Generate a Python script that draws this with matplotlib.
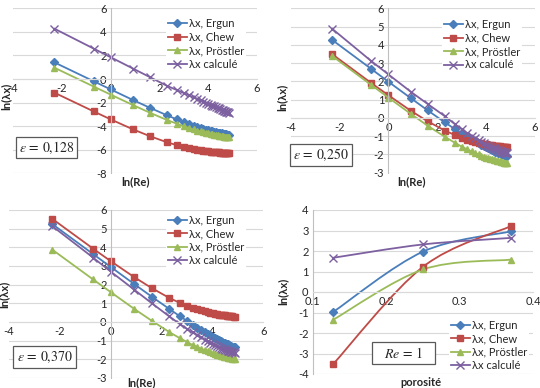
import matplotlib
matplotlib.use("Agg")
import matplotlib.pyplot as plt
import numpy as np
from matplotlib.lines import Line2D
from matplotlib.path import Path
from matplotlib.patches import PathPatch, Rectangle

plt.rcParams["font.family"] = ["Lato", "DejaVu Sans"]
plt.rcParams["axes.unicode_minus"] = False
plt.rcParams["mathtext.fontset"] = "stix"

# Reynolds numbers (x axis is ln(Re))
re_values = [0.1, 0.5, 1, 2.5, 5, 10, 15, 20, 25, 30, 35, 40, 45, 50, 55, 60,
             65, 70, 75, 80, 85, 90, 95, 100, 105, 110, 115, 120, 125, 130]

# porosity 0.128
ergun_128 = [1.41, -0.19, -0.88, -1.78, -2.44, -3.07, -3.42, -3.65, -3.82, -3.95,
             -4.06, -4.15, -4.23, -4.29, -4.35, -4.40, -4.44, -4.48, -4.51, -4.54,
             -4.57, -4.60, -4.62, -4.65, -4.67, -4.69, -4.70, -4.72, -4.74, -4.75]
chew_128 = [-1.16, -2.75, -3.42, -4.27, -4.85, -5.36, -5.61, -5.76, -5.86, -5.94,
            -6.00, -6.04, -6.08, -6.11, -6.14, -6.16, -6.18, -6.19, -6.21, -6.22,
            -6.23, -6.24, -6.25, -6.26, -6.27, -6.28, -6.28, -6.29, -6.29, -6.30]
prostler_128 = [0.96, -0.64, -1.32, -2.21, -2.86, -3.47, -3.79, -4.01, -4.16, -4.28,
                -4.38, -4.45, -4.52, -4.57, -4.62, -4.66, -4.70, -4.73, -4.76, -4.78,
                -4.81, -4.83, -4.85, -4.87, -4.88, -4.90, -4.91, -4.92, -4.94, -4.95]
calc_128 = [4.27, 2.58, 1.85, 0.89, 0.16, -0.57, -0.93, -1.19, -1.39, -1.56,
            -1.70, -1.82, -1.92, -2.02, -2.10, -2.18, -2.25, -2.32, -2.38, -2.44,
            -2.50, -2.55, -2.60, -2.64, -2.69, -2.73, -2.77, -2.81, -2.84, -2.88]

# porosity 0.250
ergun_250 = [4.27, 2.67, 1.98, 1.08, 0.41, -0.24, -0.60, -0.85, -1.03, -1.18,
             -1.29, -1.39, -1.47, -1.55, -1.61, -1.67, -1.72, -1.76, -1.80, -1.84,
             -1.87, -1.90, -1.93, -1.96, -1.98, -2.00, -2.02, -2.04, -2.06, -2.08]
chew_250 = [3.49, 1.90, 1.24, 0.39, -0.19, -0.69, -0.93, -1.08, -1.19, -1.26,
            -1.32, -1.36, -1.40, -1.43, -1.45, -1.47, -1.49, -1.51, -1.52, -1.53,
            -1.54, -1.55, -1.56, -1.57, -1.58, -1.59, -1.59, -1.60, -1.60, -1.61]
prostler_250 = [3.39, 1.79, 1.11, 0.22, -0.43, -1.03, -1.35, -1.57, -1.72, -1.83,
                -1.93, -2.00, -2.07, -2.12, -2.17, -2.21, -2.24, -2.27, -2.30, -2.32,
                -2.35, -2.37, -2.38, -2.40, -2.42, -2.43, -2.45, -2.46, -2.47, -2.48]
calc_250 = [4.88, 3.10, 2.38, 1.43, 0.76, 0.10, -0.33, -0.62, -0.83, -0.99,
            -1.12, -1.23, -1.32, -1.40, -1.47, -1.53, -1.58, -1.63, -1.67, -1.71,
            -1.74, -1.77, -1.80, -1.82, -1.84, -1.86, -1.88, -1.90, -1.91, -1.93]

# porosity 0.370
ergun_370 = [5.25, 3.64, 2.95, 2.04, 1.36, 0.70, 0.32, 0.06, -0.14, -0.30,
             -0.43, -0.54, -0.63, -0.71, -0.79, -0.85, -0.91, -0.96, -1.01, -1.06,
             -1.10, -1.14, -1.17, -1.20, -1.23, -1.26, -1.29, -1.32, -1.34, -1.36]
chew_370 = [5.53, 3.93, 3.26, 2.41, 1.82, 1.29, 1.03, 0.87, 0.76, 0.68,
            0.62, 0.57, 0.53, 0.50, 0.47, 0.44, 0.42, 0.40, 0.39, 0.37,
            0.36, 0.35, 0.34, 0.33, 0.32, 0.31, 0.31, 0.30, 0.29, 0.29]
prostler_370 = [3.88, 2.28, 1.60, 0.71, 0.07, -0.54, -0.86, -1.07, -1.23, -1.34,
                -1.43, -1.51, -1.57, -1.63, -1.67, -1.71, -1.75, -1.78, -1.81, -1.83,
                -1.85, -1.87, -1.89, -1.91, -1.92, -1.94, -1.95, -1.96, -1.98, -1.99]
calc_370 = [5.14, 3.45, 2.70, 1.74, 1.01, 0.30, -0.10, -0.37, -0.56, -0.71,
            -0.83, -0.94, -1.03, -1.11, -1.18, -1.24, -1.30, -1.35, -1.39, -1.43,
            -1.46, -1.49, -1.52, -1.54, -1.56, -1.58, -1.60, -1.62, -1.63, -1.65]

# Re = 1 against porosity
porosity = [0.128, 0.250, 0.370]
ergun_re1 = [-0.97, 1.97, 2.96]
chew_re1 = [-3.51, 1.23, 3.22]
prostler_re1 = [-1.35, 1.10, 1.58]
calc_re1 = [1.67, 2.32, 2.64]

labels = ["λx, Ergun", "λx, Chew", "λx, Pröstler", "λx calculé"]
colors = ["#4A7EBB", "#BE4B48", "#9BBB59", "#7D60A0"]
markers = ["D", "s", "^", "x"]
msizes = [3.8, 4.6, 5.0, 5.2]

W, H = 540, 388
GRID = "#d9d9d9"
TXT = "#262626"
FS = 8


def fx(x):
    return x / W


def fy(y):
    return 1 - y / H


def make_axes(fig, left, top, right, bottom):
    ax = fig.add_axes([fx(left), fy(bottom), fx(right - left), (bottom - top) / H])
    for side in ("top", "right"):
        ax.spines[side].set_visible(False)
    ax.spines["left"].set_color("#bfbfbf")
    ax.spines["bottom"].set_color(GRID)
    ax.spines["left"].set_linewidth(0.8)
    ax.spines["bottom"].set_linewidth(0.8)
    ax.grid(axis="y", color=GRID, lw=0.8)
    ax.set_axisbelow(True)
    ax.tick_params(length=0, labelsize=FS, colors=TXT, pad=3)
    ax.patch.set_alpha(0)
    return ax


def legend_handles():
    return [Line2D([], [], color=c, marker=m, ms=s, lw=1.3, mew=1.0)
            for c, m, s in zip(colors, markers, msizes)]


def add_legend(fig, ax, left, top):
    leg = ax.legend(legend_handles(), labels, loc="upper left",
                    bbox_to_anchor=(fx(left), fy(top)),
                    bbox_transform=fig.transFigure, fontsize=FS,
                    handlelength=1.7, handletextpad=0.25, labelspacing=0.22,
                    borderpad=0.15, borderaxespad=0, frameon=True,
                    fancybox=False, framealpha=1)
    leg.get_frame().set_edgecolor("none")
    leg.get_frame().set_facecolor("white")
    for t in leg.get_texts():
        t.set_color(TXT)


def add_box(fig, left, top, right, bottom, text):
    fig.patches.append(Rectangle((fx(left), fy(bottom)), fx(right - left),
                                 (bottom - top) / H, transform=fig.transFigure,
                                 facecolor="white", edgecolor="#595959", lw=0.9,
                                 zorder=5))
    fig.text(fx((left + right) / 2), fy((top + bottom) / 2), text,
             ha="center", va="center", fontsize=10, color=TXT, zorder=6)


def re_panel(fig, bounds, ylim, series, box_text, box, leg_pos, xlab_pos, ylab_pos):
    ax = make_axes(fig, *bounds)
    x = np.log(re_values)
    for ys, c, m, s in zip(series, colors, markers, msizes):
        ax.plot(x, ys, color=c, marker=m, ms=s, lw=1.3, mew=1.0, clip_on=False)
    ax.set_xlim(-4, 6)
    ax.set_ylim(*ylim)
    ax.set_xticks(range(-4, 7, 2))
    ax.set_yticks(range(ylim[0], ylim[1] + 1, 1 if ylim[1] - ylim[0] < 12 else 2))
    ax.spines["left"].set_position(("data", 0))
    ax.spines["bottom"].set_position(("data", 0))
    add_legend(fig, ax, *leg_pos)
    add_box(fig, *box, box_text)
    fig.text(fx(xlab_pos[0]), fy(xlab_pos[1]), "ln(Re)", ha="center", va="center",
             fontsize=FS, fontweight="bold", color=TXT)
    fig.text(fx(ylab_pos[0]), fy(ylab_pos[1]), "ln(λx)", ha="center", va="center",
             rotation=90, fontsize=FS, fontweight="bold", color=TXT)
    return ax


def smooth_path(xs, ys):
    pts = np.column_stack([xs, ys])
    n = len(pts)
    verts = [pts[0]]
    codes = [Path.MOVETO]
    for i in range(n - 1):
        p0 = pts[i - 1] if i > 0 else pts[i]
        p1, p2 = pts[i], pts[i + 1]
        p3 = pts[i + 2] if i + 2 < n else pts[i + 1]
        verts += [p1 + (p2 - p0) / 6, p2 - (p3 - p1) / 6, p2]
        codes += [Path.CURVE4] * 3
    return Path(verts, codes)


fig = plt.figure(figsize=(W / 100, H / 100), dpi=100, facecolor="white")

re_panel(fig, (13, 8.3, 257, 173.3), (-8, 6),
         [ergun_128, chew_128, prostler_128, calc_128],
         r"$\varepsilon\,=\,0{,}128$", (16, 137, 77, 158),
         (166, 16.5), (135, 181.5), (6, 96))

re_panel(fig, (290.7, 8.3, 535, 172.7), (-3, 6),
         [ergun_250, chew_250, prostler_250, calc_250],
         r"$\varepsilon\,=\,0{,}250$", (290, 144, 352, 166),
         (442, 17.5), (412, 181.5), (282, 97))

re_panel(fig, (9, 210, 263.3, 378), (-3, 6),
         [ergun_370, chew_370, prostler_370, calc_370],
         r"$\varepsilon\,=\,0{,}370$", (13, 346, 76, 368),
         (166, 213), (142, 382.5), (4, 294))

# porosity panel, Re = 1
ax4 = make_axes(fig, 312.7, 210, 533.3, 374)
for ys, c, m, s in zip([ergun_re1, chew_re1, prostler_re1, calc_re1], colors, markers, msizes):
    ax4.add_patch(PathPatch(smooth_path(porosity, ys), facecolor="none",
                            edgecolor=c, lw=1.3))
    ax4.plot(porosity, ys, ls="none", color=c, marker=m, ms=s, mew=1.0)
ax4.set_xlim(0.1, 0.4)
ax4.set_ylim(-4, 4)
ax4.set_xticks([0.1, 0.2, 0.3, 0.4])
ax4.set_xticklabels(["0.1", "0.2", "0.3", "0.4"])
ax4.set_yticks(range(-4, 5))
ax4.spines["bottom"].set_position(("data", 0))
add_legend(fig, ax4, 449, 318)
add_box(fig, 372, 342, 435, 364, r"$Re\,=\,1$")
fig.text(fx(421), fy(382), "porosité", ha="center", va="center",
         fontsize=FS, fontweight="bold", color=TXT)
fig.text(fx(283), fy(291), "ln(λx)", ha="center", va="center", rotation=90,
         fontsize=FS, fontweight="bold", color=TXT)

fig.savefig("out.png", dpi=100, facecolor="white")
